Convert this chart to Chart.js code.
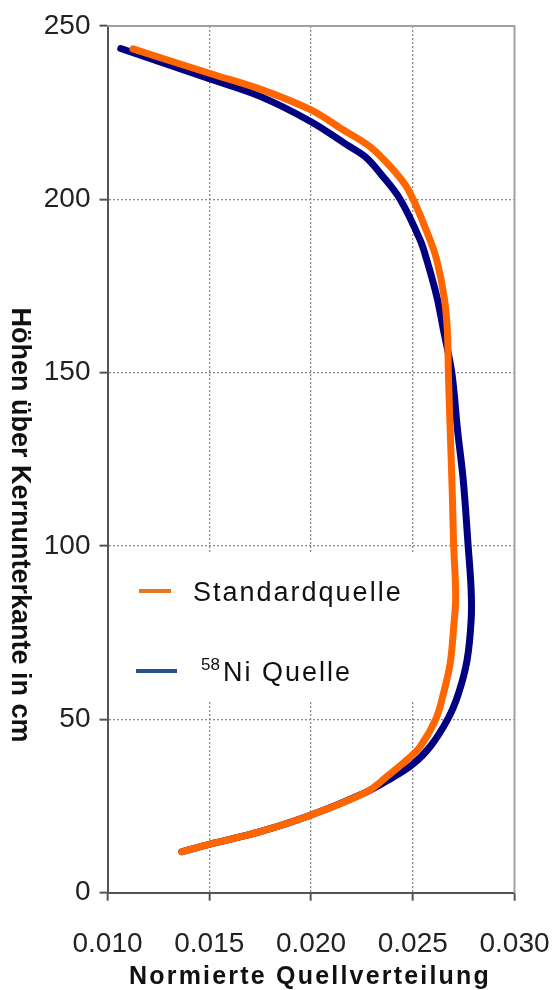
<!DOCTYPE html>
<html>
<head>
<meta charset="utf-8">
<script src="https://cdn.jsdelivr.net/npm/chart.js@4/dist/chart.umd.min.js"></script>
<style>
  html, body { margin: 0; padding: 0; background: #fff; }
  #wrap { width: 555px; height: 990px; }
</style>
</head>
<body>
<div id="wrap"><canvas id="c" width="555" height="990"></canvas></div>
<script>
// Normierte Quellverteilung über der Höhe (cm über Kernunterkante)
const standardX = [0.01125, 0.01504, 0.0175, 0.0200, 0.02151, 0.0229, 0.02389, 0.02479,
                   0.02585, 0.02618, 0.02654, 0.02670, 0.02675, 0.02684, 0.02694, 0.02701, 0.02711,
                   0.02700, 0.02684, 0.02651, 0.02615, 0.02536, 0.02471, 0.02373, 0.02274,
                   0.0200, 0.0175, 0.01504, 0.01365];
const standardY = [243.4, 236.3, 231.8, 225.8, 220.3, 215.2, 209.5, 202.7,
                   188.3, 182.5, 172.0, 162.3, 150.0, 133.5, 116.0, 100.3, 85.4,
                   75.8, 66.2, 57.5, 50.3, 42.1, 38.3, 33.5, 29.1,
                   22.4, 17.6, 14.0, 11.8];

const nickelX = [0.01065, 0.01504, 0.0175, 0.0200, 0.02177, 0.02266, 0.02349, 0.02438,
                 0.02536, 0.02569, 0.02618, 0.02651, 0.02692, 0.02720, 0.02748, 0.02772, 0.02787,
                 0.02787, 0.02767, 0.02725, 0.02674, 0.02585, 0.02495, 0.02389, 0.02274,
                 0.0200, 0.0175, 0.01504, 0.01365];
const nickelY = [243.5, 234.7, 229.7, 222.4, 215.7, 212.3, 206.9, 200.0,
                 188.3, 182.5, 172.0, 162.3, 150.0, 133.5, 119.1, 100.3, 87.3,
                 78.7, 67.1, 57.5, 50.3, 42.1, 36.8, 32.8, 29.1,
                 22.4, 17.6, 14.0, 11.8];

const xTicks = [0.010, 0.015, 0.020, 0.025, 0.030];
const yTicks = [0, 50, 100, 150, 200, 250];

const seriesNames = ['Standardquelle', 'Ni Quelle'];
const isotope = '58';
const xTitle = 'Normierte Quellverteilung';
const yTitle = 'Höhen über Kernunterkante in cm';

const toPoints = (xs, ys) => xs.map((x, i) => ({ x: x, y: ys[i] }));

const FONT = '"Liberation Sans", Arial, Helvetica, sans-serif';

// white legend panel, top/right frame, titles and legend entries
const decorations = {
  id: 'decorations',
  beforeDatasetsDraw(chart) {
    const { ctx, chartArea: a, scales } = chart;
    ctx.save();
    // legend panel hides the grid behind it
    ctx.fillStyle = '#ffffff';
    const x1 = scales.x.getPixelForValue(0.02545);
    const yTop = scales.y.getPixelForValue(98.3);
    const yBot = scales.y.getPixelForValue(55.6);
    ctx.fillRect(a.left + 1.5, yTop, x1 - a.left - 1.5, yBot - yTop);
    // frame on top and right
    ctx.strokeStyle = '#a0a0a0';
    ctx.lineWidth = 2;
    ctx.beginPath();
    ctx.moveTo(a.left, a.top);
    ctx.lineTo(a.right, a.top);
    ctx.lineTo(a.right, a.bottom);
    ctx.stroke();
    ctx.restore();
  },
  afterDraw(chart) {
    const { ctx } = chart;
    ctx.save();
    ctx.fillStyle = '#111';

    // y axis title, reading top to bottom
    ctx.save();
    ctx.translate(12, 525);
    ctx.rotate(Math.PI / 2);
    ctx.font = 'bold 27px ' + FONT;
    ctx.textAlign = 'center';
    ctx.textBaseline = 'alphabetic';
    ctx.fillText(yTitle, 0, 0);
    ctx.restore();

    // x axis title
    ctx.font = 'bold 25px ' + FONT;
    ctx.letterSpacing = '2.2px';
    ctx.textAlign = 'center';
    ctx.textBaseline = 'alphabetic';
    ctx.fillText(xTitle, 310, 984);

    // legend
    ctx.lineCap = 'butt';
    ctx.lineWidth = 4;
    ctx.strokeStyle = '#e8761f';
    ctx.beginPath(); ctx.moveTo(139, 591); ctx.lineTo(171, 591); ctx.stroke();
    ctx.strokeStyle = '#2d4f8e';
    ctx.beginPath(); ctx.moveTo(136, 671); ctx.lineTo(177, 671); ctx.stroke();

    ctx.textAlign = 'left';
    ctx.font = '27px ' + FONT;
    ctx.letterSpacing = '2px';
    ctx.fillText(seriesNames[0], 193, 601);
    ctx.font = '17px ' + FONT;
    ctx.letterSpacing = '0px';
    ctx.fillText(isotope, 201, 670);
    ctx.font = '27px ' + FONT;
    ctx.letterSpacing = '2px';
    ctx.fillText(seriesNames[1], 223, 681);
    ctx.restore();
  }
};

new Chart(document.getElementById('c'), {
  type: 'line',
  data: {
    datasets: [
      {
        label: seriesNames[0],
        data: toPoints(standardX, standardY),
        borderColor: '#ff6600',
        borderWidth: 7,
        pointRadius: 0,
        tension: 0.35,
        borderCapStyle: 'round',
        borderJoinStyle: 'round',
        fill: false
      },
      {
        label: seriesNames[1],
        data: toPoints(nickelX, nickelY),
        borderColor: '#000080',
        borderWidth: 7,
        pointRadius: 0,
        tension: 0.35,
        borderCapStyle: 'round',
        borderJoinStyle: 'round',
        fill: false
      }
    ]
  },
  options: {
    responsive: false,
    animation: false,
    devicePixelRatio: 1,
    layout: { padding: { top: 26, right: 40.5, left: 0, bottom: 0 } },
    plugins: {
      legend: { display: false },
      tooltip: { enabled: false },
      title: { display: false }
    },
    scales: {
      x: {
        type: 'linear',
        min: 0.010,
        max: 0.030,
        afterBuildTicks(scale) { scale.ticks = xTicks.map(v => ({ value: v })); },
        afterFit(scale) {
          scale.height = 97.3;
          scale.paddingLeft = 0;
          scale.paddingRight = 0;
        },
        ticks: {
          padding: 27,
          color: '#222',
          font: { family: FONT, size: 28 },
          maxRotation: 0,
          callback: v => Number(v).toFixed(3)
        },
        grid: {
          color: ctx => (ctx.tick && (ctx.tick.value <= 0.0100001 || ctx.tick.value >= 0.0299999)) ? 'rgba(0,0,0,0)' : '#8a8a8a',
          lineWidth: 1.3,
          drawTicks: true,
          tickLength: 8,
          tickColor: '#555',
          tickWidth: 2
        },
        border: { display: true, color: '#555', width: 2, dash: [2, 2] }
      },
      y: {
        type: 'linear',
        min: 0,
        max: 250,
        afterBuildTicks(scale) { scale.ticks = yTicks.map(v => ({ value: v })); },
        afterFit(scale) {
          scale.width = 107.5;
          scale.paddingTop = 0;
          scale.paddingBottom = 0;
        },
        ticks: {
          padding: 9,
          color: '#222',
          font: { family: FONT, size: 28 }
        },
        grid: {
          color: ctx => (ctx.tick && (ctx.tick.value === 0 || ctx.tick.value === 250)) ? 'rgba(0,0,0,0)' : '#8a8a8a',
          lineWidth: 1.3,
          drawTicks: true,
          tickLength: 8,
          tickColor: '#555',
          tickWidth: 2
        },
        border: { display: true, color: '#555', width: 2, dash: [2, 2] }
      }
    }
  },
  plugins: [decorations]
});
</script>
</body>
</html>
